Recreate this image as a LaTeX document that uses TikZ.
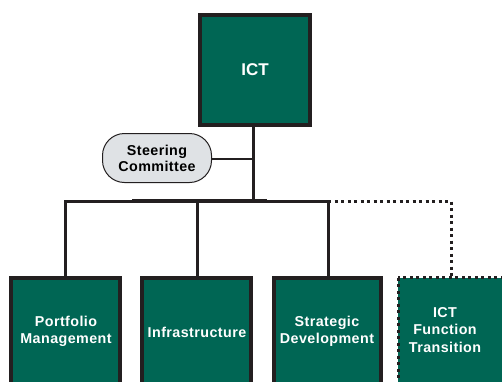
\documentclass[tikz,border=0pt]{standalone}
\usepackage{fontspec}
\setmainfont{Liberation Sans}
\definecolor{ictgreen}{RGB}{0,102,84}
\definecolor{darkline}{RGB}{35,31,32}
\definecolor{steergray}{RGB}{223,226,229}
\newcommand{\lblfont}{\fontsize{14.3}{17}\selectfont\bfseries\addfontfeature{LetterSpace=3}}
\begin{document}
\begin{tikzpicture}[x=1pt,y=-1pt,
  unitbox/.style={draw=darkline,fill=ictgreen,line width=4pt},
  dotbox/.style={draw=darkline,fill=ictgreen,line width=3pt,dash pattern=on 3pt off 3.5pt},
  lbl/.style={text=white,font=\lblfont,align=center},
  link/.style={draw=darkline,line width=3pt},
  thinlink/.style={draw=darkline,line width=1.2pt},
  dotlink/.style={draw=darkline,line width=3pt,dash pattern=on 3pt off 3.5pt}]
\useasboundingbox (0,0) rectangle (502,381);
\clip (0,0) rectangle (502,381);
% ICT box
\path[unitbox] (200,15) rectangle (310,125);
\node[text=white,font=\fontsize{17}{20}\selectfont\bfseries] (ict) at (255,70) {ICT};
\coordinate (ictb) at (253,127);
% steering committee
\node[draw=darkline,fill=steergray,line width=1pt,rounded corners=22pt,
  minimum width=109pt,minimum height=49pt,align=center,
  font=\fontsize{14.3}{16}\selectfont\bfseries\addfontfeature{LetterSpace=3}] (steer) at (157,158) {Steering\\Committee};
% bar
\coordinate (bar) at (253,201);
\coordinate (barL) at (65,201);
\coordinate (barR) at (328,201);
\coordinate (dotc) at (451,201);
\draw[link] (ictb) -- (bar);
\draw[thinlink] (steer.east |- 0,159) -- (253,159);
\draw[link,line cap=rect] (barL) -- (barR);
\draw[draw=darkline,line width=4pt] (132,201) -- (267,201);
% child boxes
\path[unitbox] (11,278) rectangle (120,400);
\path[unitbox] (142,278) rectangle (251,400);
\path[unitbox] (274,278) rectangle (381,400);
\path[dotbox] (398,277.5) rectangle (520,400);
\node[lbl] (pm) at (66,331) {Portfolio\\Management};
\node[lbl] (inf) at (197,332) {Infrastructure};
\node[lbl] (sd) at (327,331) {Strategic\\Development};
\node[lbl,font=\fontsize{14.3}{17.5}\selectfont\bfseries\addfontfeature{LetterSpace=3}] (ift) at (445,330) {ICT\\Function\\Transition};
\coordinate (pmt) at (65,276);
\coordinate (inft) at (197,276);
\coordinate (sdt) at (328,276);
\coordinate (iftt) at (451,276);
\draw[link] (barL) -- (pmt);
\draw[link] (197,201) -- (inft);
\draw[link] (barR) -- (sdt);
\draw[dotlink] (barR) -- (dotc) -- (iftt);
\end{tikzpicture}
\end{document}
